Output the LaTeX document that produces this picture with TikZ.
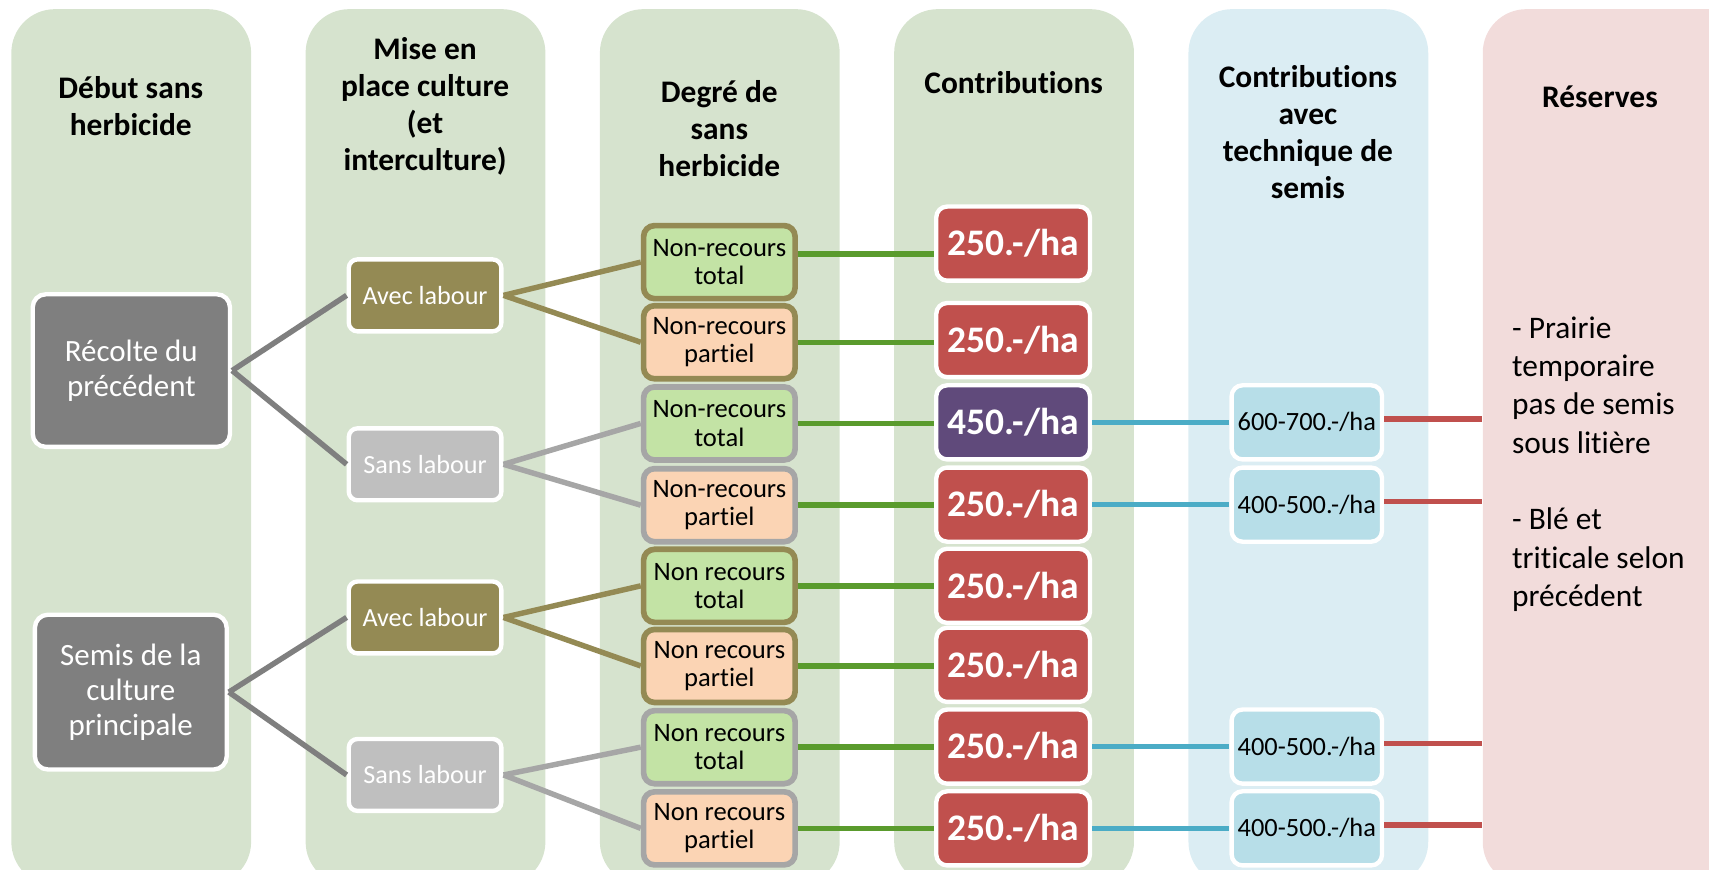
\documentclass[tikz,border=0pt]{standalone}
\usepackage{fontspec}
\setmainfont{Carlito}[Ligatures=NoCommon]
\usetikzlibrary{calc}
\definecolor{colgreen}{HTML}{D6E3CE}
\definecolor{colblue}{HTML}{DBEDF3}
\definecolor{colpink}{HTML}{F2DCDB}
\definecolor{dgrey}{HTML}{7F7F7F}
\definecolor{olive}{HTML}{948A54}
\definecolor{lgrey}{HTML}{BFBFBF}
\definecolor{mgrey}{HTML}{A6A6A6}
\definecolor{lgreen}{HTML}{C3E3A5}
\definecolor{peach}{HTML}{FBD4B4}
\definecolor{cred}{HTML}{C0504D}
\definecolor{cpurple}{HTML}{604A7B}
\definecolor{tblue}{HTML}{B7DEE8}
\definecolor{gline}{HTML}{5A9B2D}
\definecolor{bline}{HTML}{4BACC6}
\tikzset{
  colbox/.style={fill=#1, rounded corners=20pt, draw=none, minimum width=110pt, minimum height=402pt, anchor=north west, inner sep=0pt},
  headtxt/.style={align=center, font=\bfseries\fontsize{14.4}{17}\selectfont, inner sep=0pt},
  startbox/.style={rounded corners=6pt, fill=dgrey, draw=white, line width=2pt, text=white, align=center, font=\fontsize{14.2}{16}\selectfont, inner sep=0pt},
  labbox/.style={rounded corners=4pt, fill=#1, draw=white, line width=2pt, text=white, align=center, font=\fontsize{12}{13}\selectfont, minimum width=70pt, minimum height=33pt, inner sep=0pt},
  degbox/.style={rounded corners=5pt, draw=#1, line width=2.6pt, align=center, font=\fontsize{12.2}{13}\selectfont, minimum width=69.5pt, minimum height=33.5pt, inner sep=0pt},
  conbox/.style={rounded corners=5pt, fill=#1, draw=white, line width=2pt, text=white, font=\bfseries\fontsize{17.2}{20}\selectfont, minimum width=70.5pt, minimum height=34pt, inner sep=0pt},
  techbox/.style={rounded corners=5pt, fill=tblue, draw=white, line width=2pt, font=\fontsize{12.1}{13}\selectfont, minimum width=69pt, minimum height=34pt, inner sep=0pt},
  conn/.style={draw=#1, line width=2.5pt},
}
\begin{document}
\begin{tikzpicture}[x=0.5pt,y=-0.5pt]
\useasboundingbox (0,0) rectangle (1568,798);
\clip (0,0) rectangle (1568,798);
% columns
\node[colbox=colgreen] (c1) at (10,8) {};
\node[colbox=colgreen] (c2) at (280,8) {};
\node[colbox=colgreen] (c3) at (550,8) {};
\node[colbox=colgreen] (c4) at (820,8) {};
\node[colbox=colblue] (c5) at (1090,8) {};
\node[colbox=colpink, minimum width=140pt] (c6) at (1360,8) {};
% headers
\node[headtxt] (h1) at (120,97) {Début sans\\herbicide};
\node[headtxt] (h2) at (390,97.5) {Mise en\\place culture\\(et\\interculture)};
\node[headtxt] (h3) at (660,118) {Degré de\\sans\\herbicide};
\node[headtxt] (h4) at (930,76) {Contributions};
\node[headtxt] (h5) at (1200,121) {Contributions\\avec\\technique de\\semis};
\node[headtxt] (h6) at (1468,89) {Réserves};
% start nodes
\node[startbox, minimum width=90.5pt, minimum height=70pt] (rec) at (120.5,340) {Récolte du\\précédent};
\node[startbox, minimum width=88pt, minimum height=71pt] (sem) at (120,635) {Semis de la\\culture\\principale};
% labour nodes
\node[labbox=olive] (av1) at (390,271) {Avec labour};
\node[labbox=lgrey] (sa1) at (390,426) {Sans labour};
\node[labbox=olive] (av2) at (390,566.5) {Avec labour};
\node[labbox=lgrey] (sa2) at (390,711) {Sans labour};
% degree nodes
\node[degbox=olive, fill=lgreen] (d1) at (660,240.5) {Non-recours\\total};
\node[degbox=olive, fill=peach] (d2) at (660,314) {Non-recours\\partiel};
\node[degbox=mgrey, fill=lgreen] (d3) at (660,388.5) {Non-recours\\total};
\node[degbox=mgrey, fill=peach] (d4) at (660,463.5) {Non-recours\\partiel};
\node[degbox=olive, fill=lgreen] (d5) at (660,537.5) {Non recours\\total};
\node[degbox=olive, fill=peach] (d6) at (660,611) {Non recours\\partiel};
\node[degbox=mgrey, fill=lgreen] (d7) at (660,685.5) {Non recours\\total};
\node[degbox=mgrey, fill=peach] (d8) at (660,760) {Non recours\\partiel};
% contributions
\node[conbox=cred] (k1) at (929.5,223.5) {250.-/ha};
\node[conbox=cred] (k2) at (929.5,312) {250.-/ha};
\node[conbox=cpurple] (k3) at (929.5,387.5) {450.-/ha};
\node[conbox=cred] (k4) at (929.5,463) {250.-/ha};
\node[conbox=cred] (k5) at (929.5,537.5) {250.-/ha};
\node[conbox=cred] (k6) at (929.5,610) {250.-/ha};
\node[conbox=cred] (k7) at (929.5,685) {250.-/ha};
\node[conbox=cred] (k8) at (929.5,760) {250.-/ha};
% technique
\node[techbox] (t1) at (1199,387.5) {600-700.-/ha};
\node[techbox] (t2) at (1199,463) {400-500.-/ha};
\node[techbox] (t3) at (1199,685) {400-500.-/ha};
\node[techbox] (t4) at (1199,760) {400-500.-/ha};
% reserves text
\node[anchor=north west, align=left, inner sep=0pt, font=\fontsize{14.4}{17.6}\selectfont] (rtxt) at (1387,290) {- Prairie\\temporaire\\pas de semis\\sous litière\\[17.6pt]- Blé et\\triticale selon\\précédent};
% connectors
\draw[conn=dgrey] (rec.east) -- (av1.west);
\draw[conn=dgrey] (rec.east) -- (sa1.west);
\draw[conn=dgrey] (sem.east) -- (av2.west);
\draw[conn=dgrey] (sem.east) -- (sa2.west);
\draw[conn=olive] (av1.east) -- (d1.west);
\draw[conn=olive] (av1.east) -- (d2.west);
\draw[conn=mgrey] (sa1.east) -- (d3.west);
\draw[conn=mgrey] (sa1.east) -- (d4.west);
\draw[conn=olive] (av2.east) -- (d5.west);
\draw[conn=olive] (av2.east) -- (d6.west);
\draw[conn=mgrey] (sa2.east) -- (d7.west);
\draw[conn=mgrey] (sa2.east) -- (d8.west);
\draw[conn=gline] ([yshift=3.75pt]d1.east) -- ([yshift=3.75pt]d1.east -| k1.west);
\foreach \i in {2,...,8}{\draw[conn=gline] (d\i.east) -- (d\i.east -| k\i.west);}
\draw[conn=bline] (k3.east) -- (t1.west);
\draw[conn=bline] (k4.east) -- (t2.west);
\draw[conn=bline] (k7.east) -- (t3.west);
\draw[conn=bline] (k8.east) -- (t4.west);
\foreach \i in {1,...,4}{\draw[conn=cred] ([yshift=1.5pt]t\i.east) -- ([yshift=1.5pt]t\i.east -| c6.west);}
\end{tikzpicture}
\end{document}
